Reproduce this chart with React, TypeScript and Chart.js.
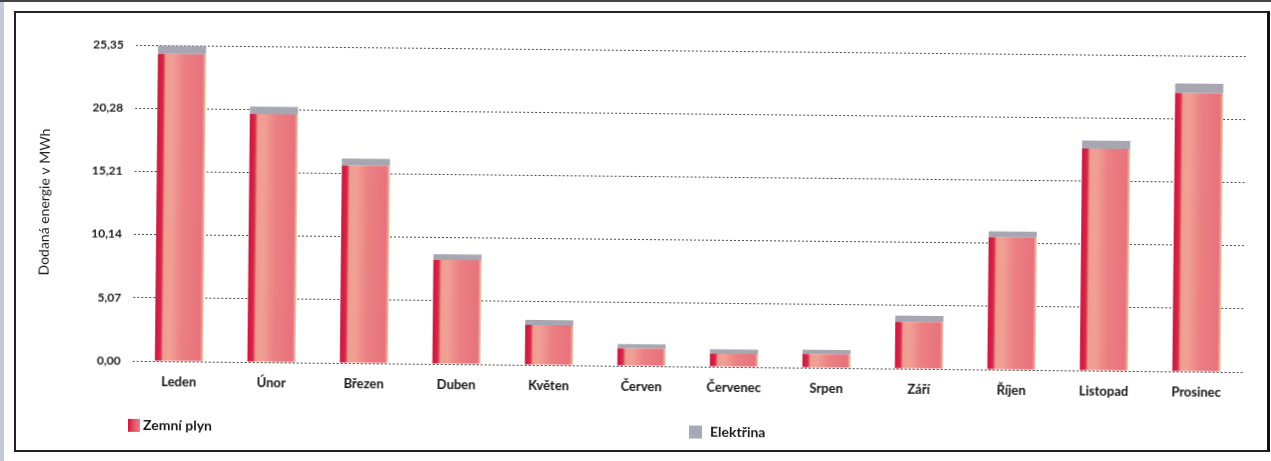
import React, { useEffect, useRef } from "react";
import { Chart, registerables } from "chart.js";

Chart.register(...registerables);

const months = [
  "Leden", "Únor", "Březen", "Duben", "Květen", "Červen",
  "Červenec", "Srpen", "Září", "Říjen", "Listopad", "Prosinec",
];
const gasValues = [24.65, 19.9, 15.85, 8.35, 3.2, 1.4, 1.05, 1.1, 3.75, 10.6, 17.8, 22.35];
const elecValues = [0.65, 0.6, 0.55, 0.45, 0.4, 0.35, 0.35, 0.35, 0.5, 0.5, 0.65, 0.75];
const yTicks = [0, 5.07, 10.14, 15.21, 20.28, 25.35];
const seriesNames = ["Zemní plyn", "Elektřina"];
const yTitle = "Dodaná energie v MWh";

const BAR_PCT = 0.52;
const FONT = "Lato, 'Open Sans', sans-serif";

function gasFill(ctx: any) {
  const chart = ctx.chart;
  const xs = chart.scales && chart.scales.x;
  if (!xs || ctx.type !== "data" || !xs.width) return "#e8747c";
  const cx = xs.getPixelForValue(ctx.dataIndex);
  const w = (xs.width / months.length) * BAR_PCT;
  const g = chart.ctx.createLinearGradient(cx - w / 2, 0, cx + w / 2, 0);
  g.addColorStop(0, "#c8163c");
  g.addColorStop(0.11, "#d8284a");
  g.addColorStop(0.17, "#f09c90");
  g.addColorStop(0.3, "#f1a095");
  g.addColorStop(0.55, "#eb8084");
  g.addColorStop(0.93, "#e8727c");
  g.addColorStop(1, "#f0c4a2");
  return g;
}

export default function App() {
  const canvasRef = useRef<HTMLCanvasElement | null>(null);

  useEffect(() => {
    if (!canvasRef.current) return;
    const chart = new Chart(canvasRef.current, {
      type: "bar",
      data: {
        labels: months,
        datasets: [
          {
            label: seriesNames[0],
            data: gasValues,
            backgroundColor: gasFill as any,
            borderWidth: 0,
            barPercentage: BAR_PCT,
            categoryPercentage: 1,
            stack: "s",
          },
          {
            label: seriesNames[1],
            data: elecValues,
            backgroundColor: "#a6a7b1",
            borderWidth: 0,
            barPercentage: BAR_PCT,
            categoryPercentage: 1,
            stack: "s",
          },
        ],
      },
      options: {
        animation: false,
        responsive: false,
        maintainAspectRatio: false,
        layout: { padding: { top: 37, right: 20, bottom: 0, left: 20 } },
        plugins: {
          legend: { display: false },
          tooltip: { enabled: false },
        },
        scales: {
          x: {
            stacked: true,
            grid: { display: false, drawTicks: false },
            border: { display: false },
            ticks: {
              padding: 13,
              color: "#151515",
              font: { family: FONT, size: 13, weight: "bold" },
              maxRotation: 0,
              autoSkip: false,
            },
            afterFit: (scale: any) => {
              scale.height = 83;
            },
          },
          y: {
            stacked: true,
            min: 0,
            max: 25.35,
            afterBuildTicks: (scale: any) => {
              scale.ticks = yTicks.map((v) => ({ value: v }));
            },
            afterFit: (scale: any) => {
              scale.width = 98;
            },
            grid: {
              color: "#4a4a4a",
              lineWidth: 1,
              drawTicks: false,
            },
            border: { display: false, dash: [2, 2] },
            ticks: {
              padding: 12,
              color: "#1a1a1a",
              font: { family: FONT, size: 12, weight: "bold" },
              callback: (v: any) => Number(v).toFixed(2).replace(".", ","),
            },
            title: {
              display: true,
              text: yTitle,
              color: "#1a1a1a",
              font: { family: FONT, size: 14 },
              padding: { top: 0, bottom: 0 },
            },
          },
        },
      },
    });
    return () => chart.destroy();
  }, []);

  const legendText: React.CSSProperties = {
    position: "absolute",
    fontFamily: FONT,
    fontSize: 14,
    fontWeight: "bold",
    color: "#1a1a1a",
    whiteSpace: "nowrap",
    lineHeight: "16px",
  };

  return (
    <div
      style={{
        position: "fixed",
        left: 0,
        top: 0,
        width: 1271,
        height: 461,
        background: "#fdfdfd",
        overflow: "hidden",
      }}
    >
      <div style={{ position: "absolute", left: 0, top: 0, width: 4, height: 461, background: "#c3c9d6" }} />
      <div style={{ position: "absolute", left: 0, top: 0, width: 1271, height: 2, background: "#444" }} />
      <div
        style={{
          position: "absolute",
          left: 14,
          top: 11,
          width: 1251,
          height: 437,
          borderTop: "2px solid #222",
          borderLeft: "2px solid #222",
          borderBottom: "2px solid #222",
          borderRight: "3px solid #111",
          background: "#ffffff",
        }}
      />
      <div
        style={{
          position: "absolute",
          left: 16,
          top: 13,
          width: 1248,
          height: 436,
          transform: "rotate(0.58deg)",
          transformOrigin: "50% 50%",
        }}
      >
        <canvas ref={canvasRef} width={1248} height={436} style={{ display: "block" }} />
        <div
          style={{
            position: "absolute",
            left: 114,
            top: 411,
            width: 12,
            height: 13,
            background: "linear-gradient(90deg,#c8163c 0%,#e04a60 40%,#ec8088 100%)",
          }}
        />
        <div style={{ ...legendText, left: 129, top: 409 }}>{seriesNames[0]}</div>
        <div
          style={{
            position: "absolute",
            left: 675,
            top: 412,
            width: 13,
            height: 13,
            background: "#a6a9b6",
          }}
        />
        <div style={{ ...legendText, left: 696, top: 410 }}>{seriesNames[1]}</div>
      </div>
    </div>
  );
}
